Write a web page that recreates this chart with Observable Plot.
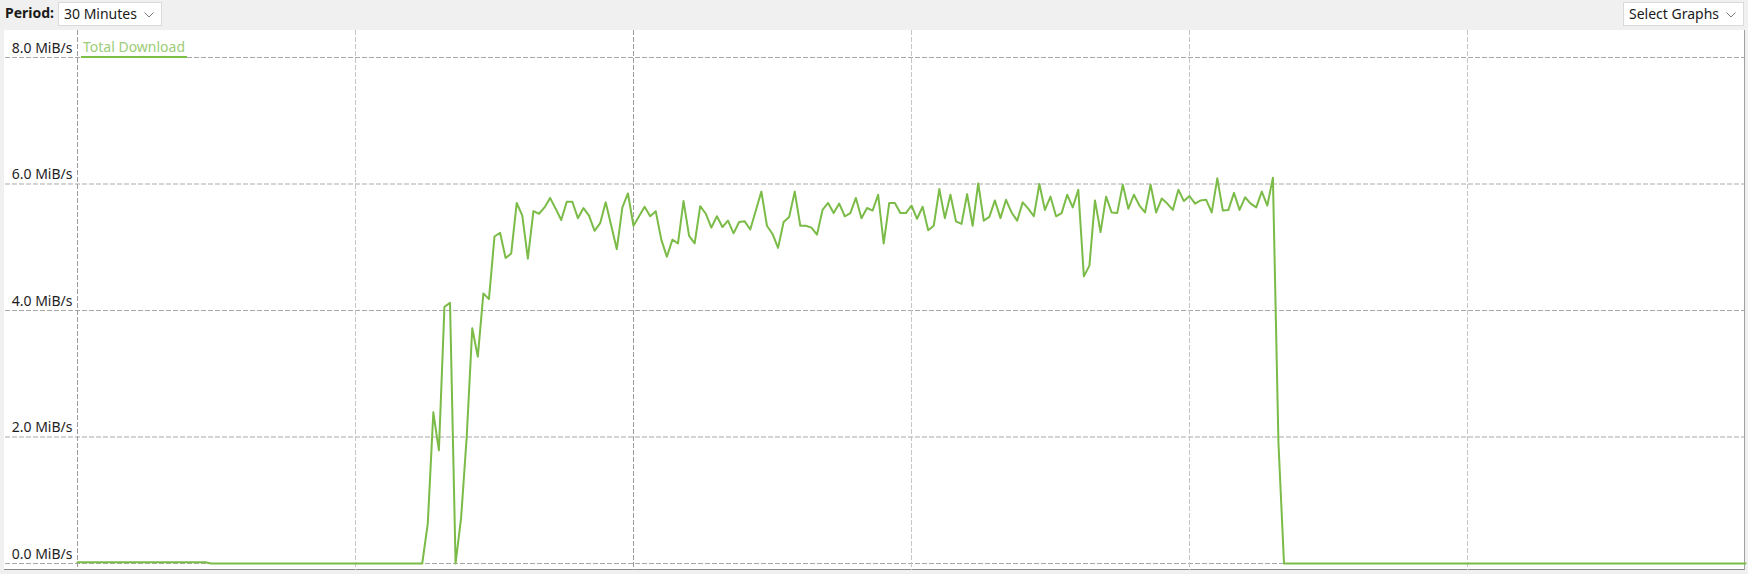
<!DOCTYPE html>
<html><head><meta charset="utf-8">
<script src="https://cdn.jsdelivr.net/npm/d3@7"></script>
<script src="https://cdn.jsdelivr.net/npm/@observablehq/plot@0.6"></script>
<style>
html,body{margin:0;padding:0;background:#f0f0f0;}
#root{position:relative;width:1748px;height:574px;overflow:hidden;font-family:"Noto Sans",sans-serif;font-size:14px;color:#1a1a1a;}
.lbl{position:absolute;left:5px;top:3px;font-weight:bold;line-height:20px;}
.dd{position:absolute;top:2px;height:24px;background:#fff;border:1px solid #dadada;box-sizing:border-box;line-height:21px;padding-left:5px;}
.dd svg{position:absolute;right:7px;top:9px;}
#panel{position:absolute;left:4px;top:30px;width:1741px;height:540px;background:#fff;border-right:1px solid #a0a0a0;border-bottom:1px solid #8a8a8a;box-sizing:border-box;}
#chart{position:absolute;left:0;top:30px;}
#legend{position:absolute;left:81px;top:38px;color:#9ccc78;line-height:18px;border-bottom:2px solid #7cbf45;padding:0 2px;}
</style></head>
<body>
<div id="root">
  <div class="lbl">Period:</div>
  <div class="dd" style="left:58px;width:104px;">30 Minutes<svg width="10" height="6"><polyline points="0.5,0.5 5,5 9.5,0.5" fill="none" stroke="#777" stroke-width="1"/></svg></div>
  <div class="dd" style="left:1623px;width:121px;">Select Graphs<svg width="10" height="6"><polyline points="0.5,0.5 5,5 9.5,0.5" fill="none" stroke="#777" stroke-width="1"/></svg></div>
  <div id="panel"></div>
  <div id="chart"></div>
  <div id="legend">Total Download</div>
</div>
<script>
// Sample interval of the recorded series (seconds); 30-minute window
const sampleIntervalSec = 6;
const windowMinutes = 30;
const seriesName = "Total Download";

// Download rate in MiB/s, one value per 6-second sample (301 samples)
const download = [
  0.02,0.02,0.02,0.02,0.02,0.02,0.02,0.02,0.02,0.02,0.02,0.02,0.02,0.02,0.02,0.02,0.02,0.02,0.02,0.02,0.02,0.02,0.02,0.02,
  0,0,0,0,0,0,0,0,0,0,0,0,0,0,0,0,0,0,0,0,0,0,0,0,0,0,0,0,0,0,0,0,0,0,0,0,0,0,0,
  0.63,2.39,1.79,4.06,4.12,0.0,0.73,2.0,3.72,3.27,4.27,4.18,5.17,5.23,4.83,4.90,5.70,5.50,4.82,5.57,
  5.53,5.63,5.78,5.61,5.43,5.72,5.72,5.46,5.62,5.50,5.26,5.38,5.71,5.34,4.97,5.63,5.85,5.34,5.49,5.64,
  5.49,5.57,5.12,4.85,5.12,5.06,5.73,5.18,5.06,5.65,
  5.53,5.31,5.49,5.32,5.42,5.22,5.40,5.41,5.28,5.58,5.88,5.34,5.21,4.99,5.40,5.48,5.88,5.34,5.34,5.31,
  5.20,5.59,5.70,5.54,5.69,5.49,5.54,5.78,5.46,5.62,5.58,5.83,5.06,5.70,5.70,5.54,5.54,5.66,5.45,5.64,
  5.27,5.34,5.92,5.46,5.83,5.41,5.37,5.84,5.34,6.01,5.42,5.48,5.74,5.46,
  5.75,5.55,5.42,5.71,5.61,5.49,6.00,5.59,5.80,5.49,5.54,5.83,5.63,5.91,4.54,4.71,5.74,5.24,5.80,5.55,
  5.54,5.99,5.61,5.83,5.66,5.55,5.99,5.55,5.77,5.69,5.59,5.91,5.73,5.81,5.69,5.74,5.75,5.55,6.09,5.58,
  5.59,5.86,5.59,5.79,5.69,5.63,5.88,5.66,6.10,
  1.9,
  0,0,0,0,0,0,0,0,0,0,0,0,0,0,0,0,0,0,0,0,0,0,0,0,0,0,0,0,0,0,0,0,0,0,0,0,0,0,0,0,0,0,
  0,0,0,0,0,0,0,0,0,0,0,0,0,0,0,0,0,0,0,0,0,0,0,0,0,0,0,0,0,0,0,0,0,0,0,0,0,0,0,0,0,0
];

// Axis ticks
const yTicks = [0, 2, 4, 6, 8];
const yTickLabels = ["0.0 MiB/s", "2.0 MiB/s", "4.0 MiB/s", "6.0 MiB/s", "8.0 MiB/s"];
const xGridMinutes = [0, 5, 10, 15, 20, 25];
const xGridStrong = [0, 10];

const rows = download.map((v, i) => ({t: i * sampleIntervalSec / 60, v}));

const chart = Plot.plot({
  width: 1748,
  height: 540,
  marginLeft: 77,
  marginRight: 3,
  marginTop: 27,
  marginBottom: 7,
  style: {background: "transparent", fontFamily: '"Noto Sans", sans-serif', fontSize: "14px", color: "#1e1e1e", overflow: "visible"},
  x: {domain: [0, windowMinutes], axis: null},
  y: {domain: [0, 8], axis: null},
  marks: [
    Plot.ruleY(yTicks, {stroke: "#a9a9a9", strokeDasharray: "5,2", insetLeft: -72}),
    Plot.ruleX(xGridMinutes.filter(d => !xGridStrong.includes(d)), {stroke: "#c6c6c6", strokeDasharray: "5,2", insetTop: -27, insetBottom: -7}),
    Plot.ruleX(xGridStrong, {stroke: "#9c9c9c", strokeDasharray: "5,2", insetTop: -27, insetBottom: -7}),
    Plot.axisY(yTicks, {label: null, tickSize: 0, tickPadding: 5, dy: -9, fill: "#1e1e1e", tickFormat: d => yTickLabels[yTicks.indexOf(d)]}),
    Plot.line(rows, {x: "t", y: "v", stroke: "#7bbb47", strokeWidth: 2})
  ]
});
document.getElementById("chart").appendChild(chart);
</script>
</body></html>
